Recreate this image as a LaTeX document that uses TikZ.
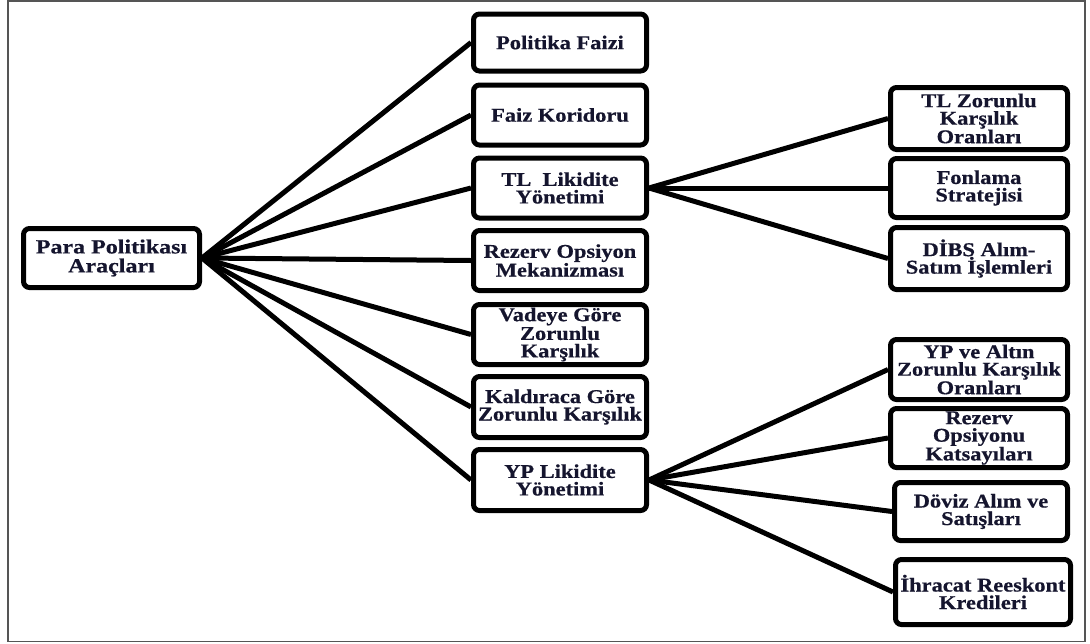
\documentclass[tikz,border=0pt]{standalone}
\usepackage{fontspec}
\setmainfont{Liberation Serif}[FakeStretch=1.15, BoldFeatures={FakeBold=0.6}]
\newfontfamily\rootfont{Liberation Serif}[FakeStretch=1.2, BoldFeatures={FakeBold=0.6}]
\definecolor{txt}{HTML}{15152E}
\definecolor{framegray}{HTML}{555555}
\begin{document}
\begin{tikzpicture}[x=1pt,y=-1pt,
  boxstyle/.style={draw=black, line width=5pt, rounded corners=6pt, fill=white,
    align=center, inner sep=0pt, text=txt,
    font=\fontsize{19.5}{17.5}\selectfont\bfseries},
  midbox/.style={boxstyle, minimum width=173pt, minimum height=60pt},
  rightbox/.style={boxstyle, minimum width=177pt, minimum height=60pt},
  conn/.style={line width=5pt, black}]
\useasboundingbox (0,0) rectangle (1090,643);
\draw[framegray, line width=1.5pt] (8,1) rectangle (1085,641.5);

% root
\node[boxstyle, minimum width=176pt, minimum height=59pt,
  font=\rootfont\fontsize{20}{19}\selectfont\bfseries] (root) at (111.5,258) {Para Politikası\\Araçları};

% middle column
\node[midbox, minimum height=57pt] (m1) at (560,42.5) {Politika Faizi};
\node[midbox] (m2) at (560,115) {Faiz Koridoru};
\node[midbox] (m3) at (560,188) {TL\ \ Likidite\\Yönetimi};
\node[midbox] (m4) at (560,260.5) {Rezerv Opsiyon\\Mekanizması};
\node[midbox] (m5) at (560,334.5) {Vadeye Göre\\Zorunlu\\Karşılık};
\node[midbox, minimum height=61pt] (m6) at (560,407) {Kaldıraca Göre\\Zorunlu Karşılık};
\node[midbox, minimum height=61pt] (m7) at (560,480) {YP Likidite\\Yönetimi};

% right column (TL)
\node[rightbox, minimum height=62pt] (r1) at (979,118.5) {TL Zorunlu\\Karşılık\\Oranları};
\node[rightbox, minimum height=59pt] (r2) at (979,188) {Fonlama\\Stratejisi};
\node[rightbox, minimum height=62pt] (r3) at (979,258.5) {DİBS Alım-\\Satım İşlemleri};

% right column (YP)
\node[rightbox] (r4) at (979,369.5) {YP ve Altın\\Zorunlu Karşılık\\Oranları};
\node[rightbox, minimum height=59pt] (r5) at (979,438) {Rezerv\\Opsiyonu\\Katsayıları};
\node[rightbox, minimum width=173pt, minimum height=58pt] (r6) at (981,511.5) {Döviz Alım ve\\Satışları};
\node[rightbox, minimum width=175pt, minimum height=65pt] (r7) at (983,592) {İhracat Reeskont\\Kredileri};

% connectors
\foreach \m in {m1,m2,m3,m4,m5,m6,m7}
  \draw[conn] (root.east) -- (\m.west);
\foreach \r in {r1,r2,r3}
  \draw[conn] (m3.east) -- (\r.west);
\foreach \r in {r4,r5,r6,r7}
  \draw[conn] (m7.east) -- (\r.west);
\end{tikzpicture}
\end{document}
